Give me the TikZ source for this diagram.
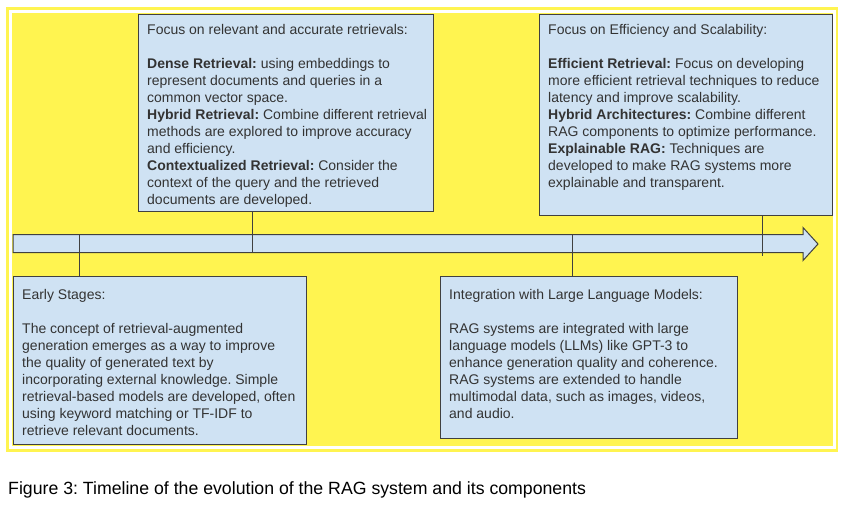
\documentclass[tikz,border=0pt]{standalone}
\usepackage{fontspec}
\setmainfont{Liberation Sans}
\definecolor{boxblue}{HTML}{CFE2F3}
\definecolor{linegray}{HTML}{404040}
\definecolor{textgray}{HTML}{333333}
\definecolor{yellowbg}{HTML}{FFF450}
\frenchspacing
\begin{document}
\begin{tikzpicture}[x=1pt,y=-1pt,
  box/.style={draw=linegray, fill=boxblue, line width=1pt, inner sep=0pt, outer sep=0pt, anchor=north west},
  txt/.style={anchor=north west, inner sep=0pt, align=left, text=textgray, font=\fontsize{14}{17}\selectfont},
  tick/.style={draw=linegray, line width=1pt}]
\useasboundingbox (0,0) rectangle (855,504);
\fill[white] (0,0) rectangle (855,504);
\fill[yellowbg] (6,7) rectangle (838,452);
\draw[white, line width=2.5pt] (10.5,11.5) rectangle (834.5,447.5);

% boxes
\node[box, minimum width=295pt, minimum height=197pt] (b1) at (138,14) {};
\node[box, minimum width=293pt, minimum height=201pt] (b2) at (539,14) {};
\node[box, minimum width=293pt, minimum height=168pt] (b3) at (13,276) {};
\node[box, minimum width=297pt, minimum height=162pt] (b4) at (440,276) {};

% texts
\node[txt] (t1) at (147,24) {Focus on relevant and accurate retrievals:\\[17pt]
\textbf{Dense Retrieval:} using embeddings to\\
represent documents and queries in a\\
common vector space.\\
\textbf{Hybrid Retrieval:} Combine different retrieval\\
methods are explored to improve accuracy\\
and efficiency.\\
\textbf{Contextualized Retrieval:} Consider the\\
context of the query and the retrieved\\
documents are developed.};

\node[txt] (t2) at (548,24) {Focus on Efficiency and Scalability:\\[17pt]
\textbf{Efficient Retrieval:} Focus on developing\\
more efficient retrieval techniques to reduce\\
latency and improve scalability.\\
\textbf{Hybrid Architectures:} Combine different\\
RAG components to optimize performance.\\
\textbf{Explainable RAG:} Techniques are\\
developed to make RAG systems more\\
explainable and transparent.};

\node[txt] (t3) at (22,289) {Early Stages:\\[17pt]
The concept of retrieval-augmented\\
generation emerges as a way to improve\\
the quality of generated text by\\
incorporating external knowledge. Simple\\
retrieval-based models are developed, often\\
using keyword matching or TF-IDF to\\
retrieve relevant documents.};

\node[txt] (t4) at (449,289) {Integration with Large Language Models:\\[17pt]
RAG systems are integrated with large\\
language models (LLMs) like GPT-3 to\\
enhance generation quality and coherence.\\
RAG systems are extended to handle\\
multimodal data, such as images, videos,\\
and audio.};

% timeline arrow
\draw[draw=linegray, fill=boxblue, line width=1pt]
  (13,234.5) -- (803,234.5) -- (803,227.5) -- (818,244) -- (803,260.5) -- (803,252.5) -- (13,252.5) -- cycle;

% ticks
\coordinate (a1) at (79,234.5);
\coordinate (a2) at (252,252.5);
\coordinate (a3) at (572,234.5);
\coordinate (a4) at (762,256);
\draw[tick] (a1) -- (a1 |- b3.north);
\draw[tick] (b1.south -| a2) -- (a2);
\draw[tick] (a3) -- (a3 |- b4.north);
\draw[tick] (b2.south -| a4) -- (a4);

% caption
\node[anchor=base west, inner sep=0pt, font=\fontsize{17.7}{20}\selectfont, text=black] (cap) at (8,494)
  {Figure 3: Timeline of the evolution of the RAG system and its components};
\end{tikzpicture}
\end{document}
